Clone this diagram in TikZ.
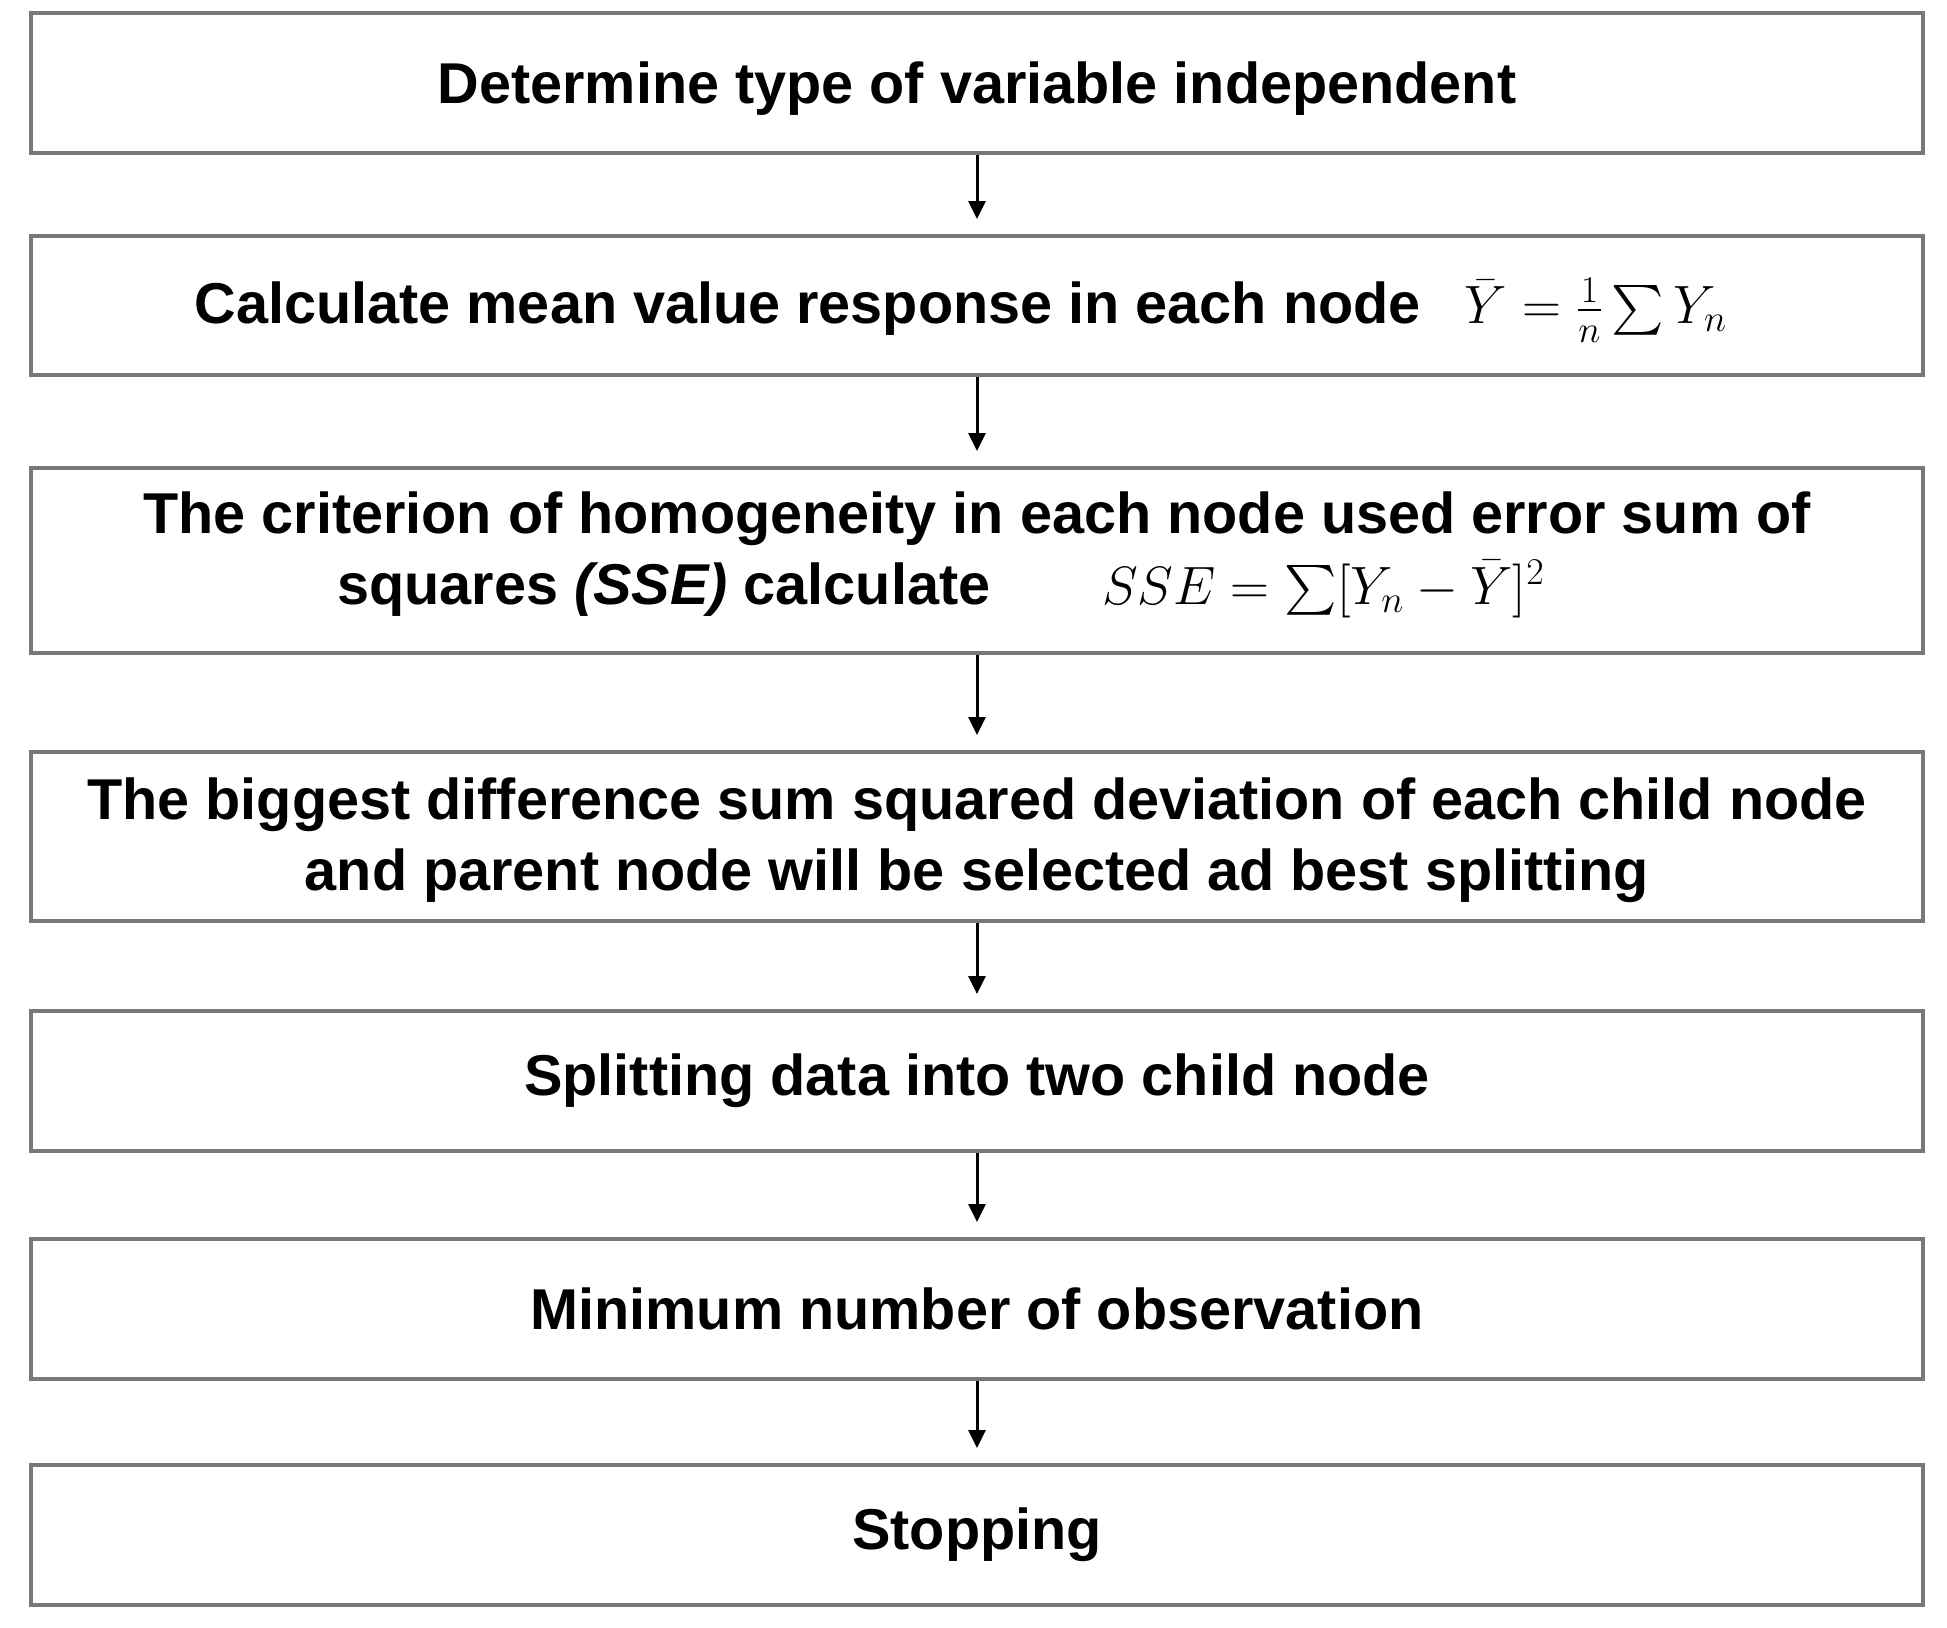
\RequirePackage{fix-cm}
\documentclass[tikz,border=0pt]{standalone}
\usepackage{amsmath}
\usepackage{fontspec}
\setmainfont{Liberation Sans}
\usetikzlibrary{arrows.meta}
\definecolor{boxgray}{RGB}{120,120,120}
\newcommand{\bigmath}[1]{{\fontsize{27}{35.5}\selectfont$#1$}}
\newcommand{\shifttext}[2]{\raisebox{#1}[\height][\depth]{\begin{tabular}{@{}c@{}}#2\end{tabular}}}
\tikzset{
  stepbox/.style={draw=boxgray, line width=2pt, minimum width=946pt, inner sep=0pt,
    align=center, font=\fontsize{28.8}{35.5}\selectfont\bfseries, text=black},
  arr/.style={-{Triangle[length=9pt,width=8.5pt]}, line width=1.5pt, black, shorten >=7.5pt}
}
\begin{document}
\begin{tikzpicture}[x=0.5pt,y=-0.5pt]
\useasboundingbox (0,0) rectangle (1947,1627);
\node[stepbox, minimum height=70pt] (b1) at (977,83) {\shifttext{-3pt}{Determine type of variable independent}};
\node[stepbox, minimum height=69.5pt] (b2) at (977,305.5) {\shifttext{-2pt}{Calculate mean value response in each node\hspace{22pt}\bigmath{\bar{Y} = \tfrac{1}{n}\textstyle\sum Y_n}\kern16pt}};
\node[stepbox, minimum height=92.5pt] (b3) at (977,560.5) {\shifttext{3pt}{The criterion of homogeneity in each node used error sum of\\ squares \textit{(SSE)} calculate\hspace{56pt}\bigmath{SSE = \textstyle\sum[Y_n - \bar{Y}]^2}\kern36pt}};
\node[stepbox, minimum height=84.5pt] (b4) at (977,836.5) {\shifttext{-2pt}{The biggest difference sum squared deviation of each child node\\ and parent node will be selected ad best splitting}};
\node[stepbox, minimum height=70pt] (b5) at (977,1081) {Splitting data into two child node};
\node[stepbox, minimum height=70pt] (b6) at (977,1309) {Minimum number of observation};
\node[stepbox, minimum height=70pt] (b7) at (977,1535) {Stopping};
\draw[arr] (b1.south) -- (b2.north);
\draw[arr] (b2.south) -- (b3.north);
\draw[arr] (b3.south) -- (b4.north);
\draw[arr] (b4.south) -- (b5.north);
\draw[arr] (b5.south) -- (b6.north);
\draw[arr] (b6.south) -- (b7.north);
\end{tikzpicture}
\end{document}
